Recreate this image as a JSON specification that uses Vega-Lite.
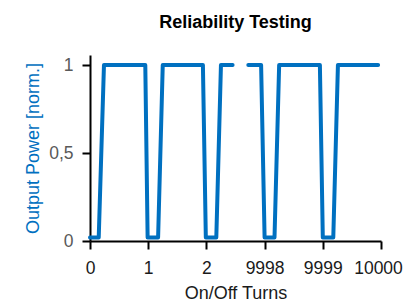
{
  "$schema": "https://vega.github.io/schema/vega-lite/v6.json",
  "autosize": {"type": "none"},
  "padding": {"left": 90, "top": 55, "right": 22, "bottom": 63},
  "width": 291,
  "height": 186,
  "background": "white",
  "title": {
    "text": "Reliability Testing",
    "font": "Liberation Sans",
    "fontSize": 18,
    "fontWeight": "bold",
    "color": "#000000",
    "anchor": "middle",
    "offset": 23
  },
  "config": {
    "view": {"stroke": null},
    "axis": {
      "grid": false,
      "domainColor": "#000000",
      "domainWidth": 2,
      "tickColor": "#000000",
      "tickWidth": 2,
      "tickSize": 8,
      "labelFont": "Liberation Sans",
      "labelFontSize": 17.5,
      "titleFont": "Liberation Sans",
      "titleFontSize": 18,
      "titleFontWeight": "normal"
    }
  },
  "data": {
    "values": [
      {"seg": "A", "pos": 0, "p": 0.02},
      {"seg": "A", "pos": 0.15, "p": 0.02},
      {"seg": "A", "pos": 0.24, "p": 1},
      {"seg": "A", "pos": 0.95, "p": 1},
      {"seg": "A", "pos": 0.99, "p": 0.02},
      {"seg": "A", "pos": 1.17, "p": 0.02},
      {"seg": "A", "pos": 1.25, "p": 1},
      {"seg": "A", "pos": 1.94, "p": 1},
      {"seg": "A", "pos": 1.99, "p": 0.02},
      {"seg": "A", "pos": 2.17, "p": 0.02},
      {"seg": "A", "pos": 2.25, "p": 1},
      {"seg": "A", "pos": 2.45, "p": 1},
      {"seg": "B", "pos": 2.72, "p": 1},
      {"seg": "B", "pos": 2.94, "p": 1},
      {"seg": "B", "pos": 3.0, "p": 0.02},
      {"seg": "B", "pos": 3.17, "p": 0.02},
      {"seg": "B", "pos": 3.25, "p": 1},
      {"seg": "B", "pos": 3.95, "p": 1},
      {"seg": "B", "pos": 4.0, "p": 0.02},
      {"seg": "B", "pos": 4.18, "p": 0.02},
      {"seg": "B", "pos": 4.26, "p": 1},
      {"seg": "B", "pos": 4.95, "p": 1}
    ]
  },
  "mark": {"type": "line", "color": "#0070C0", "strokeWidth": 4, "strokeCap": "round", "strokeJoin": "round"},
  "encoding": {
    "x": {
      "field": "pos",
      "type": "quantitative",
      "scale": {"domain": [0, 5], "nice": false, "zero": false},
      "axis": {
        "title": "On/Off Turns",
        "titleColor": "#1a1a1a",
        "titlePadding": 8,
        "values": [0, 1, 2, 3, 4, 5],
        "labelExpr": "['0','1','2','9998','9999','10000'][datum.value]",
        "labelColor": "#1a1a1a",
        "labelFlush": false,
        "labelOverlap": false,
        "labelPadding": 10,
        "labelOffset": {"condition": {"test": "datum.value == 5", "value": -3}, "value": 0}
      }
    },
    "y": {
      "field": "p",
      "type": "quantitative",
      "scale": {"domain": [0, 1.057], "nice": false},
      "axis": {
        "title": "Output Power [norm.]",
        "titleColor": "#0070C0",
        "titlePadding": 6,
        "values": [0, 0.5, 1],
        "labelExpr": "replace(format(datum.value, '~g'), '.', ',')",
        "labelColor": "#595959",
        "labelPadding": 9
      }
    },
    "detail": {"field": "seg"}
  }
}
